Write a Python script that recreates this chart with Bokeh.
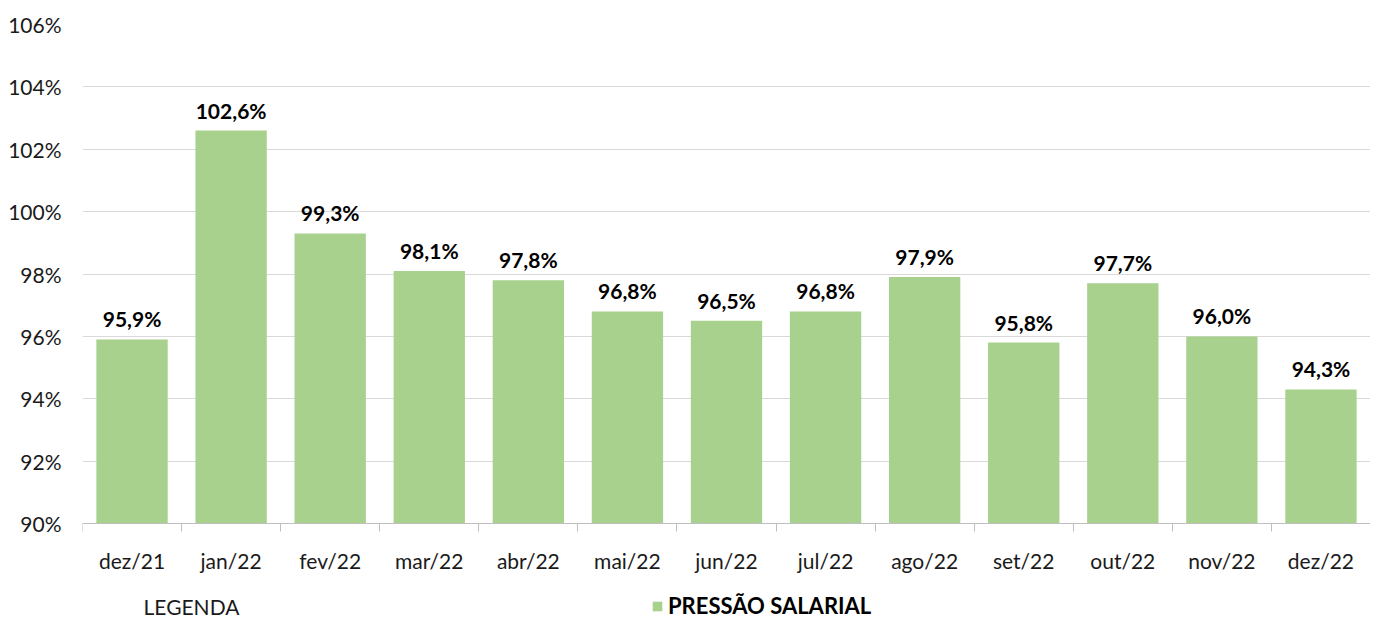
from bokeh.plotting import figure
from bokeh.models import (ColumnDataSource, FixedTicker, Range1d, Legend, LegendItem,
                          Label, LabelSet)
from bokeh.core.properties import value
from bokeh.embed import file_html
from bokeh.resources import INLINE

months = ["dez/21", "jan/22", "fev/22", "mar/22", "abr/22", "mai/22", "jun/22",
          "jul/22", "ago/22", "set/22", "out/22", "nov/22", "dez/22"]
pressao = [95.9, 102.6, 99.3, 98.1, 97.8, 96.8, 96.5, 96.8, 97.9, 95.8, 97.7, 96.0, 94.3]
y_ticks = [90, 92, 94, 96, 98, 100, 102, 104, 106]
series_name = "PRESSÃO SALARIAL"
legend_title = "LEGENDA"

FONT = "Lato"
BAR = "#A9D18E"
TXT = "#1a1a1a"
FS = "21px"

W, H = 1370, 620
TOP, AXIS_Y, LEFT = 24, 523, 82          # pixel layout of the frame
ppu = (AXIS_Y - TOP) / (y_ticks[-1] - y_ticks[0])
y_start = y_ticks[0] - (H - AXIS_Y) / ppu

n = len(months)
xs = [i + 0.5 for i in range(n)]
labels = [f"{v:.1f}".replace(".", ",") + "%" for v in pressao]
src = ColumnDataSource(dict(x=xs, top=pressao, lab=labels))

p = figure(width=W, height=H, output_backend="svg", toolbar_location=None,
           x_range=Range1d(0, n), y_range=Range1d(y_start, y_ticks[-1]),
           min_border_left=LEFT, min_border_right=0, min_border_top=TOP, min_border_bottom=0)
p.outline_line_color = None
p.background_fill_color = "white"
p.border_fill_color = "white"

r = p.vbar(x="x", top="top", bottom=y_ticks[0], width=0.72, source=src,
           fill_color=BAR, line_color=None)

p.add_layout(LabelSet(x="x", y="top", text="lab", source=src, text_align="center",
                      text_baseline="bottom", y_offset=8, text_font=value(FONT),
                      text_font_style="bold", text_font_size=FS, text_color="black"))

# y axis
p.yaxis.ticker = FixedTicker(ticks=y_ticks)
p.yaxis.major_label_overrides = {t: f"{t}%" for t in y_ticks}
p.yaxis.axis_line_color = None
p.yaxis.major_tick_line_color = None
p.yaxis.minor_tick_line_color = None
p.yaxis.major_label_standoff = 15
p.yaxis.major_label_text_font = FONT
p.yaxis.major_label_text_font_size = FS
p.yaxis.major_label_text_color = TXT
p.ygrid.ticker = FixedTicker(ticks=y_ticks)
p.ygrid.grid_line_color = "#D9D9D9"
p.ygrid.grid_line_width = 1
p.xgrid.grid_line_color = None

# x axis pinned at 90%
p.xaxis.fixed_location = y_ticks[0]
p.xaxis.ticker = FixedTicker(ticks=xs, minor_ticks=list(range(n + 1)))
p.xaxis.major_label_overrides = {x: m for x, m in zip(xs, months)}
p.xaxis.axis_line_color = "#BFBFBF"
p.xaxis.major_tick_line_color = None
p.xaxis.major_tick_out = 0
p.xaxis.major_tick_in = 0
p.xaxis.minor_tick_line_color = "#BFBFBF"
p.xaxis.minor_tick_out = 8
p.xaxis.minor_tick_in = 0
p.xaxis.major_label_standoff = 16
p.xaxis.major_label_text_font = FONT
p.xaxis.major_label_text_font_size = FS
p.xaxis.major_label_text_color = TXT

# legend
legend = Legend(items=[LegendItem(label=series_name, renderers=[r])],
                location=(569, 1), orientation="horizontal",
                glyph_width=12, glyph_height=12, label_standoff=5,
                padding=0, margin=0, spacing=0,
                border_line_color=None, background_fill_alpha=0,
                label_text_font=FONT, label_text_font_style="bold",
                label_text_font_size="22px", label_text_color="black")
p.add_layout(legend, "center")

p.add_layout(Label(x=1.10, y=y_ticks[0] - (606 - AXIS_Y) / ppu, text=legend_title,
                   text_align="center", text_baseline="middle", text_font=FONT,
                   text_font_size=FS, text_color=TXT))

open("out.html", "w").write(file_html(p, INLINE))
